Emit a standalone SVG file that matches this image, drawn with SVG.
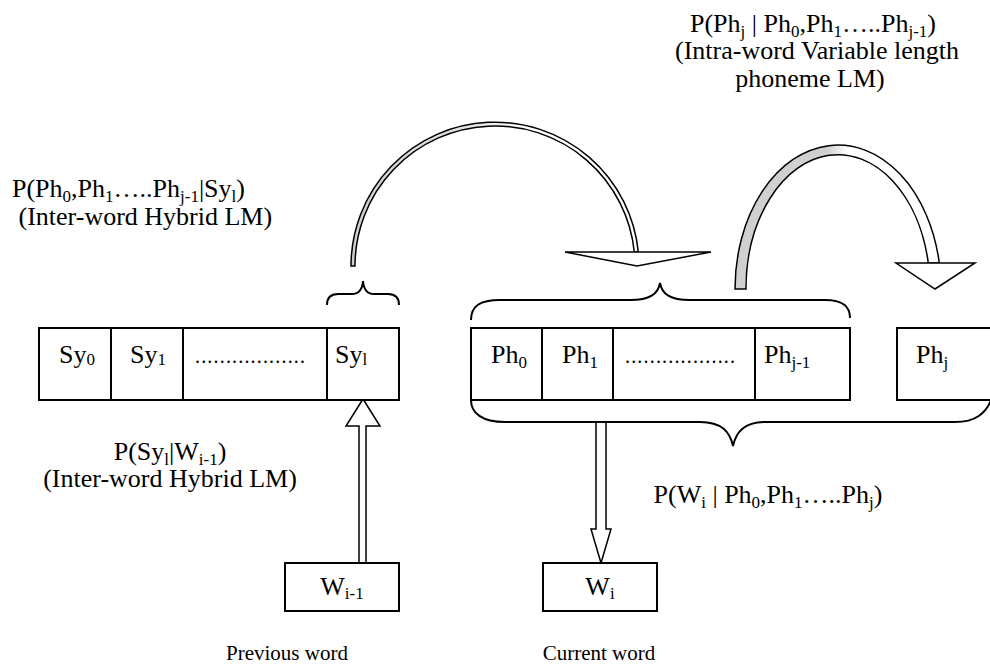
<svg xmlns="http://www.w3.org/2000/svg" width="990" height="672" viewBox="0 0 990 672">
<style>
text{font-family:"Liberation Serif","Times New Roman",serif;font-size:26px;fill:#000}
.s{font-size:17px}
.cap{font-size:21px}
.box{fill:#fff;stroke:#000;stroke-width:2}
.ln{fill:none;stroke:#000;stroke-width:2}
.br{fill:none;stroke:#000;stroke-width:2}
.arr{fill:#fff;stroke:#000;stroke-width:1.5;stroke-linejoin:miter}
</style>
<defs>
<linearGradient id="g1" x1="0" y1="0" x2="1" y2="0">
<stop offset="0" stop-color="#cfcfcf"/><stop offset="0.45" stop-color="#e6e6e6"/><stop offset="0.6" stop-color="#fff"/><stop offset="1" stop-color="#fff"/>
</linearGradient>
<linearGradient id="g2" x1="0" y1="0" x2="1" y2="0">
<stop offset="0" stop-color="#d0d0d0"/><stop offset="0.45" stop-color="#d0d0d0"/><stop offset="0.55" stop-color="#fff"/><stop offset="1" stop-color="#fff"/>
</linearGradient>
</defs>

<g id="label-intra">
<text x="813" y="32" text-anchor="middle">P(Ph<tspan class="s" dy="5">j</tspan><tspan dy="-5"> | Ph</tspan><tspan class="s" dy="5">0</tspan><tspan dy="-5">,Ph</tspan><tspan class="s" dy="5">1</tspan><tspan dy="-5">…..Ph</tspan><tspan class="s" dy="5">j-1</tspan><tspan dy="-5">)</tspan></text>
<text x="817" y="59" text-anchor="middle">(Intra-word Variable length</text>
<text x="810" y="87" text-anchor="middle">phoneme LM)</text>
</g>

<g id="label-hybrid-top">
<text x="12" y="197">P(Ph<tspan class="s" dy="5">0</tspan><tspan dy="-5">,Ph</tspan><tspan class="s" dy="5">1</tspan><tspan dy="-5">…..Ph</tspan><tspan class="s" dy="5">j-1</tspan><tspan dy="-5">|Sy</tspan><tspan class="s" dy="5">l</tspan><tspan dy="-5">)</tspan></text>
<text x="12" y="225" xml:space="preserve"> (Inter-word Hybrid LM)</text>
</g>

<g id="label-hybrid-bottom">
<text x="170" y="460" text-anchor="middle">P(Sy<tspan class="s" dy="5">l</tspan><tspan dy="-5">|W</tspan><tspan class="s" dy="5">i-1</tspan><tspan dy="-5">)</tspan></text>
<text x="170" y="487" text-anchor="middle">(Inter-word Hybrid LM)</text>
</g>

<g id="label-word">
<text x="768" y="503" text-anchor="middle">P(W<tspan class="s" dy="5">i</tspan><tspan dy="-5"> | Ph</tspan><tspan class="s" dy="5">0</tspan><tspan dy="-5">,Ph</tspan><tspan class="s" dy="5">1</tspan><tspan dy="-5">…..Ph</tspan><tspan class="s" dy="5">j</tspan><tspan dy="-5">)</tspan></text>
</g>

<g id="connectors">
<path class="arr" style="fill:url(#g1)" d="M 351 266 A 144 144 0 0 1 638.3 252 L 634.3 252 A 140 140 0 0 0 355 266 Z"/>
<polygon class="arr" points="565,252 711,252 637,266"/>
<path class="arr" style="fill:url(#g2)" d="M 735 289 A 103 144 0 0 1 939.3 263 L 928.3 263 A 92 134 0 0 0 746 289 Z"/>
<polygon class="arr" points="896,263 975,263 935,289"/>
<path class="br" d="M 327 305 Q 327 294 338 294 L 352 294 Q 362 294 363 281 Q 364 294 374 294 L 388 294 Q 399 294 399 305"/>
<path class="br" d="M 471 320 C 471 306 480 300 500 300 L 630 300 C 650 300 658 294 660 283 C 662 294 670 300 690 300 L 825 300 C 845 300 850 308 850 318"/>
<path class="br" d="M 471 400 C 471 413 482 422 505 422 L 700 422 C 722 422 730 432 733 446 C 736 432 744 422 766 422 L 955 422 C 975 422 986 414 992 398"/>
<path class="arr" d="M 596 423 L 596 529 L 591 529 L 601 563 L 611 529 L 606 529 L 606 423"/>
<path class="arr" d="M 359 563 L 359 426 L 346 426 L 363 399 L 380 426 L 366 426 L 366 563 Z"/>
</g>

<g id="sy-row">
<rect class="box" x="39" y="328" width="360" height="72"/>
<line class="ln" x1="111" y1="328" x2="111" y2="400"/>
<line class="ln" x1="183" y1="328" x2="183" y2="400"/>
<line class="ln" x1="327" y1="328" x2="327" y2="400"/>
<text x="59" y="363">Sy<tspan class="s" dy="2">0</tspan></text>
<text x="130" y="363">Sy<tspan class="s" dy="2">1</tspan></text>
<text x="195" y="363" style="font-size:20px" textLength="110">..................</text>
<text x="335" y="363">Sy<tspan class="s" dy="2">l</tspan></text>
</g>

<g id="ph-row">
<rect class="box" x="471" y="328" width="379" height="72"/>
<line class="ln" x1="542" y1="328" x2="542" y2="400"/>
<line class="ln" x1="613" y1="328" x2="613" y2="400"/>
<line class="ln" x1="755" y1="328" x2="755" y2="400"/>
<text x="491" y="363">Ph<tspan class="s" dy="5">0</tspan></text>
<text x="562" y="363">Ph<tspan class="s" dy="5">1</tspan></text>
<text x="625" y="363" style="font-size:20px" textLength="110">..................</text>
<text x="764" y="363">Ph<tspan class="s" dy="5">j-1</tspan></text>
</g>

<g id="phj">
<rect class="box" x="897" y="328" width="100" height="72"/>
<text x="916" y="363">Ph<tspan class="s" dy="5">j</tspan></text>
</g>

<g id="w-prev">
<rect class="box" x="285" y="563" width="114" height="48"/>
<text x="342" y="595" text-anchor="middle">W<tspan class="s" dy="4">i-1</tspan></text>
<text class="cap" x="287" y="660" text-anchor="middle">Previous word</text>
</g>

<g id="w-cur">
<rect class="box" x="543" y="563" width="114" height="48"/>
<text x="600" y="595" text-anchor="middle">W<tspan class="s" dy="4">i</tspan></text>
<text class="cap" x="599" y="660" text-anchor="middle">Current word</text>
</g>
</svg>
